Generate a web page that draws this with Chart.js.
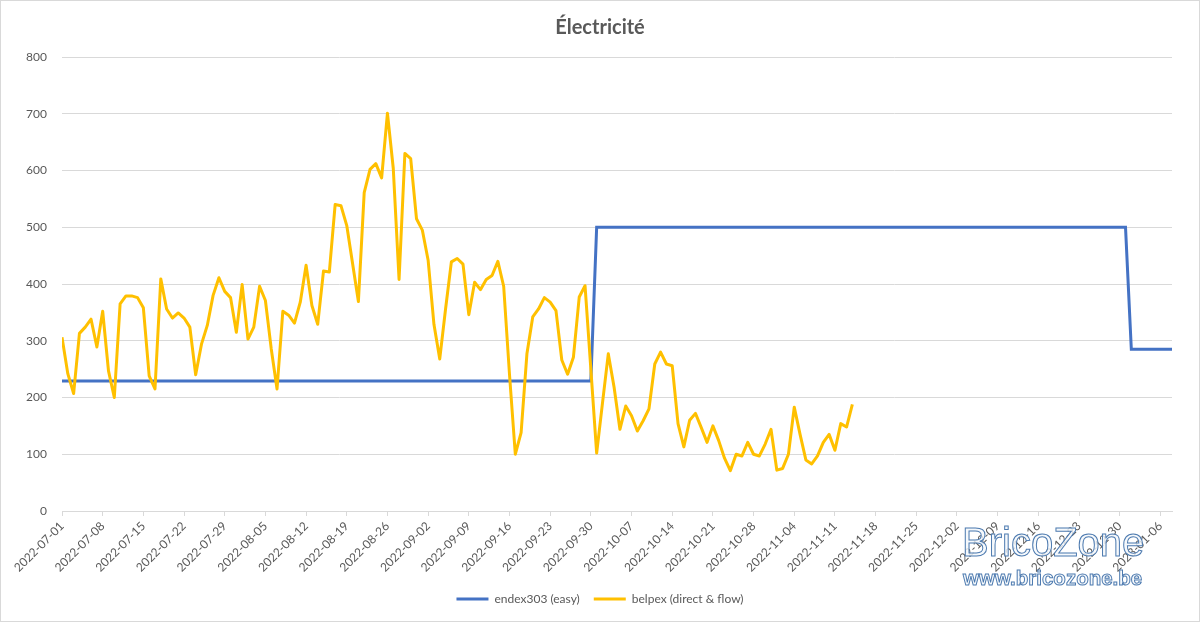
<!DOCTYPE html>
<html>
<head>
<meta charset="utf-8">
<script src="https://cdn.jsdelivr.net/npm/chart.js@4.4.0/dist/chart.umd.min.js"></script>
<style>
html, body { margin: 0; padding: 0; background: #fff; }
#wrap { position: relative; width: 1200px; height: 622px; box-sizing: border-box; border: 1px solid #d9d9d9; }
#chart { display: block; }
.mark { position: absolute; font-family: "Liberation Sans", Arial, sans-serif; color: rgba(244, 247, 251, 0.8); -webkit-text-stroke: 1px #4e7bb0; line-height: 1; white-space: nowrap; }
</style>
</head>
<body>
<div id="wrap">
<canvas id="chart" width="1198" height="620"></canvas>
<div class="mark" style="left:961px; top:521px; font-size:40px;">BricoZone</div>
<div class="mark" style="left:962px; top:567px; font-size:20.5px; font-weight:bold;">www.bricozone.be</div>
</div>
<script>
// tick labels, one every 7 days starting 2022-07-01 (day 0)
const weekLabels = [
    '2022-07-01', '2022-07-08', '2022-07-15', '2022-07-22', '2022-07-29',
    '2022-08-05', '2022-08-12', '2022-08-19', '2022-08-26',
    '2022-09-02', '2022-09-09', '2022-09-16', '2022-09-23', '2022-09-30',
    '2022-10-07', '2022-10-14', '2022-10-21', '2022-10-28',
    '2022-11-04', '2022-11-11', '2022-11-18', '2022-11-25',
    '2022-12-02', '2022-12-09', '2022-12-16', '2022-12-23', '2022-12-30',
    '2023-01-06'
];

// endex303: step line, only the corner days are needed
const endexDays = [0, 91, 92, 183, 184, 191];
const endexValues = [229, 229, 500, 500, 285, 285];

// belpex daily values, day 0 = 2022-07-01 ... day 136 = 2022-11-14
const belpex = [
    306, 242, 207, 313, 324, 338, 289, 352, 247, 200,
    365, 379, 379, 376, 358, 238, 215, 409, 356, 340,
    349, 340, 324, 240, 294, 327, 380, 411, 387, 376,
    315, 399, 303, 324, 396, 371, 286, 215, 352, 345,
    331, 368, 433, 362, 329, 423, 421, 540, 538, 503,
    436, 369, 561, 602, 612, 587, 701, 604, 408, 630,
    621, 515, 495, 442, 329, 268, 356, 439, 445, 435,
    346, 403, 390, 408, 415, 440, 396, 241, 100, 138,
    277, 342, 356, 376, 368, 353, 266, 241, 271, 377,
    397, 250, 102, 190, 277, 218, 144, 185, 168, 141,
    159, 180, 259, 280, 259, 256, 154, 113, 160, 172,
    147, 121, 150, 124, 93, 71, 100, 97, 121, 100,
    97, 118, 144, 72, 75, 100, 183, 135, 90, 83,
    97, 121, 135, 107, 154, 148, 188
];

const gray = '#595959';
const gridGray = '#d9d9d9';
const tickFont = { family: 'Lato', size: 12 };

const ctx = document.getElementById('chart').getContext('2d');
new Chart(ctx, {
    type: 'line',
    data: {
        datasets: [{
            label: 'endex303 (easy)',
            data: endexDays.map((d, i) => ({ x: d, y: endexValues[i] })),
            borderColor: '#4472C4',
            backgroundColor: '#4472C4',
            borderWidth: 3,
            pointRadius: 0,
            tension: 0,
            order: 1
        }, {
            label: 'belpex (direct & flow)',
            data: belpex.map((v, i) => ({ x: i, y: v })),
            borderColor: '#FFC000',
            backgroundColor: '#FFC000',
            borderWidth: 3,
            borderJoinStyle: 'round',
            pointRadius: 0,
            tension: 0,
            order: 0
        }]
    },
    options: {
        responsive: false,
        animation: false,
        layout: { padding: { left: 0, right: 0, top: 0, bottom: 6 } },
        plugins: {
            title: {
                display: true,
                text: 'Électricité',
                color: gray,
                font: { family: 'Lato', size: 20, weight: 'bold' },
                padding: { top: 15, bottom: 17 }
            },
            legend: {
                position: 'bottom',
                labels: {
                    usePointStyle: true,
                    pointStyle: 'line',
                    pointStyleWidth: 32,
                    color: gray,
                    font: { family: 'Lato', size: 12 },
                    padding: 14,
                    sort: (a, b) => a.datasetIndex - b.datasetIndex
                }
            },
            tooltip: { enabled: false }
        },
        scales: {
            x: {
                type: 'linear',
                min: 0,
                max: 191,
                afterBuildTicks: s => { s.ticks = s.ticks.filter(t => t.value % 7 === 0); },
                afterFit: s => { s.height = 68; },
                ticks: {
                    stepSize: 7,
                    includeBounds: false,
                    autoSkip: false,
                    maxRotation: 45,
                    minRotation: 45,
                    color: gray,
                    font: tickFont,
                    callback: v => weekLabels[v / 7]
                },
                grid: { drawOnChartArea: false, color: gridGray, tickLength: 5 },
                border: { color: gridGray }
            },
            y: {
                min: 0,
                max: 800,
                afterFit: s => { s.width = 61; },
                ticks: { stepSize: 100, color: gray, padding: 15, font: tickFont },
                grid: { color: gridGray, drawTicks: false },
                border: { display: false }
            },
            // empty right-hand space, keeps title and legend centred on the page
            yRight: {
                position: 'right',
                min: 0,
                max: 800,
                afterFit: s => { s.width = 27; },
                ticks: { display: false },
                grid: { display: false },
                border: { display: false }
            }
        }
    }
});
</script>
</body>
</html>
